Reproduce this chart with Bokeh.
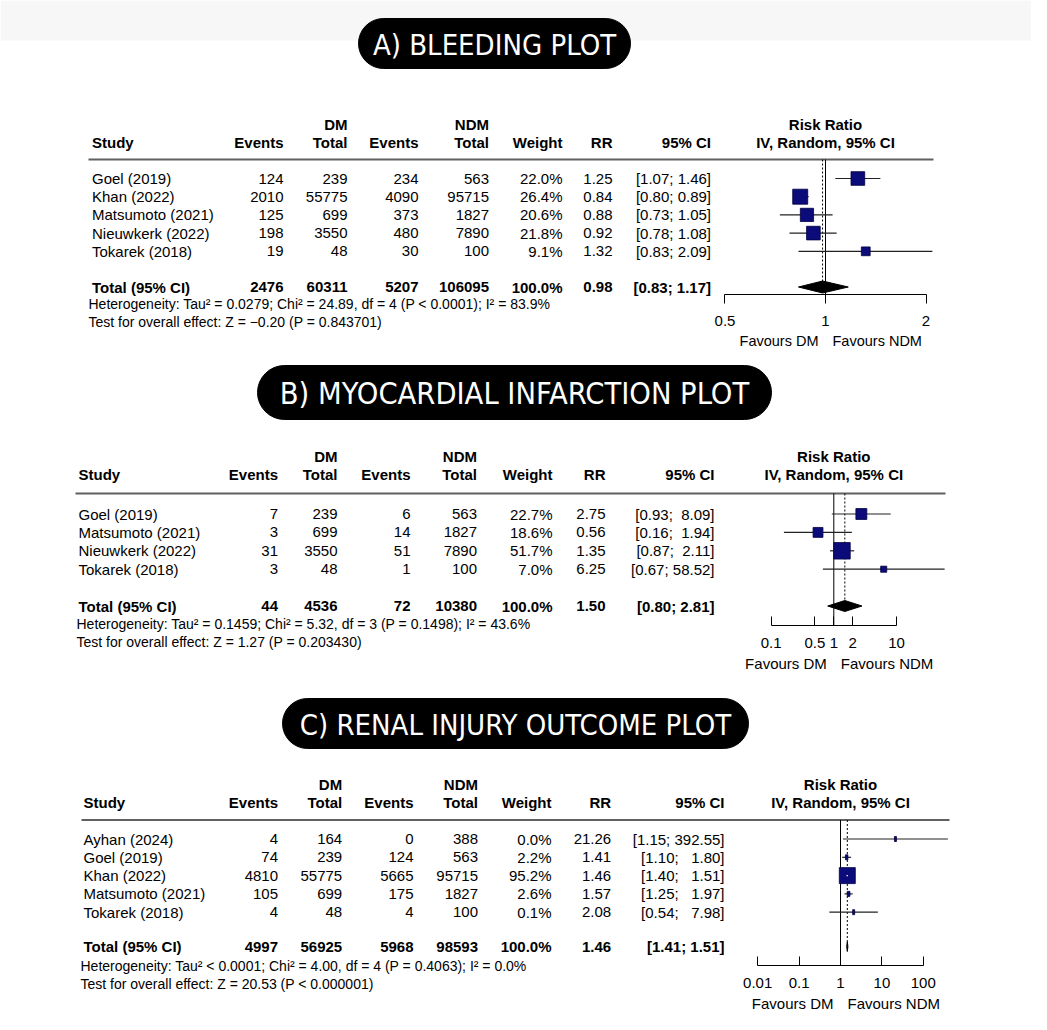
import math
from bokeh.plotting import figure
from bokeh.models import Range1d, LogScale, LogAxis, FixedTicker, NumeralTickFormatter
from bokeh.core.properties import value
from bokeh.embed import file_html
from bokeh.resources import INLINE

# ---------------- data ----------------
titles = ["A) BLEEDING PLOT", "B) MYOCARDIAL INFARCTION PLOT", "C) RENAL INJURY OUTCOME PLOT"]
header_top = ["DM", "NDM"]
header_cols = ["Study", "Events", "Total", "Events", "Total", "Weight", "RR", "95% CI"]
forest_header = ["Risk Ratio", "IV, Random, 95% CI"]
favours = ["Favours DM", "Favours NDM"]
total_label = "Total (95% CI)"

# A) Bleeding
a_study = ["Goel (2019)", "Khan (2022)", "Matsumoto (2021)", "Nieuwkerk (2022)", "Tokarek (2018)"]
a_dm_events = [124, 2010, 125, 198, 19]
a_dm_total = [239, 55775, 699, 3550, 48]
a_ndm_events = [234, 4090, 373, 480, 30]
a_ndm_total = [563, 95715, 1827, 7890, 100]
a_weight = [22.0, 26.4, 20.6, 21.8, 9.1]
a_rr = [1.25, 0.84, 0.88, 0.92, 1.32]
a_lo = [1.07, 0.80, 0.73, 0.78, 0.83]
a_hi = [1.46, 0.89, 1.05, 1.08, 2.09]
a_totals = [2476, 60311, 5207, 106095]
a_total_weight = 100.0
a_total_rr = 0.98
a_total_lo = 0.83
a_total_hi = 1.17
a_het = "Heterogeneity: Tau² = 0.0279; Chi² = 24.89, df = 4 (P < 0.0001); I² = 83.9%"
a_test = "Test for overall effect: Z = −0.20 (P = 0.843701)"
a_ticks = [0.5, 1, 2]
a_tick_labels = ["0.5", "1", "2"]

# B) Myocardial infarction
b_study = ["Goel (2019)", "Matsumoto (2021)", "Nieuwkerk (2022)", "Tokarek (2018)"]
b_dm_events = [7, 3, 31, 3]
b_dm_total = [239, 699, 3550, 48]
b_ndm_events = [6, 14, 51, 1]
b_ndm_total = [563, 1827, 7890, 100]
b_weight = [22.7, 18.6, 51.7, 7.0]
b_rr = [2.75, 0.56, 1.35, 6.25]
b_lo = [0.93, 0.16, 0.87, 0.67]
b_hi = [8.09, 1.94, 2.11, 58.52]
b_totals = [44, 4536, 72, 10380]
b_total_weight = 100.0
b_total_rr = 1.50
b_total_lo = 0.80
b_total_hi = 2.81
b_het = "Heterogeneity: Tau² = 0.1459; Chi² = 5.32, df = 3 (P = 0.1498); I² = 43.6%"
b_test = "Test for overall effect: Z = 1.27 (P = 0.203430)"
b_ticks = [0.1, 0.5, 1, 2, 10]
b_tick_labels = ["0.1", "0.5", "1", "2", "10"]

# C) Renal injury
c_study = ["Ayhan (2024)", "Goel (2019)", "Khan (2022)", "Matsumoto (2021)", "Tokarek (2018)"]
c_dm_events = [4, 74, 4810, 105, 4]
c_dm_total = [164, 239, 55775, 699, 48]
c_ndm_events = [0, 124, 5665, 175, 4]
c_ndm_total = [388, 563, 95715, 1827, 100]
c_weight = [0.0, 2.2, 95.2, 2.6, 0.1]
c_rr = [21.26, 1.41, 1.46, 1.57, 2.08]
c_lo = [1.15, 1.10, 1.40, 1.25, 0.54]
c_hi = [392.55, 1.80, 1.51, 1.97, 7.98]
c_totals = [4997, 56925, 5968, 98593]
c_total_weight = 100.0
c_total_rr = 1.46
c_total_lo = 1.41
c_total_hi = 1.51
c_het = "Heterogeneity: Tau² < 0.0001; Chi² = 4.00, df = 4 (P = 0.4063); I² = 0.0%"
c_test = "Test for overall effect: Z = 20.53 (P < 0.000001)"
c_ticks = [0.01, 0.1, 1, 10, 100]
c_tick_labels = ["0.01", "0.1", "1", "10", "100"]

# ---------------- layout / style ----------------
W, H = 1031, 1014
OX, OY = 0, 0
FONT = "Liberation Sans"
TFONT = "DejaVu Sans Condensed"
NAVY = "#0b0b7a"


def fx(v):
    return v - OX


def fy(v):
    return v - OY


panels = [
    dict(name="rrA", x_one=825, dec=333.9, study_x=91.5, het_x=88,
         cols=[283, 347, 418, 488.5, 562, 612, 710.5], hdr1_y=123.5, hdr2_y=142,
         line_y=159, line_x=(88, 933), row0=178, step=18.2, total_y=286.5,
         het_y=303, test_y=321, axis_y=294, tick_in=0, tick_out=9, standoff=12,
         fav_y=340, fav_size="14.5px", box_max=15, dh=12,
         pill=(358, 630, 18, 68), title_size="29px"),
    dict(name="rrB", x_one=833.3, dec=62.7, study_x=78, het_x=76,
         cols=[277.5, 337, 410, 476.5, 552, 605, 714], hdr1_y=455.5, hdr2_y=474,
         line_y=493, line_x=(75, 945), row0=513.5, step=18.4, total_y=605.5,
         het_y=623, test_y=641, axis_y=625, tick_in=9, tick_out=0, standoff=12,
         fav_y=663, fav_size="15px", box_max=16.5, dh=11,
         pill=(257, 771, 365, 419), title_size="30.5px"),
    dict(name="rrC", x_one=840, dec=41.4, study_x=83, het_x=80,
         cols=[277.5, 341.7, 413, 477.5, 551, 610.7, 724], hdr1_y=783.5, hdr2_y=802,
         line_y=819.5, line_x=(81, 949), row0=838.5, step=18.3, total_y=946,
         het_y=965, test_y=983, axis_y=965, tick_in=9, tick_out=0, standoff=12,
         fav_y=1003, fav_size="15px", box_max=16, dh=10,
         pill=(282, 748, 698, 748), title_size="29px"),
]

datasets = [
    dict(study=a_study, dm_e=a_dm_events, dm_n=a_dm_total, ndm_e=a_ndm_events, ndm_n=a_ndm_total,
         w=a_weight, rr=a_rr, lo=a_lo, hi=a_hi, totals=a_totals, tw=a_total_weight,
         trr=a_total_rr, tlo=a_total_lo, thi=a_total_hi, het=a_het, test=a_test,
         ticks=a_ticks, tick_labels=a_tick_labels),
    dict(study=b_study, dm_e=b_dm_events, dm_n=b_dm_total, ndm_e=b_ndm_events, ndm_n=b_ndm_total,
         w=b_weight, rr=b_rr, lo=b_lo, hi=b_hi, totals=b_totals, tw=b_total_weight,
         trr=b_total_rr, tlo=b_total_lo, thi=b_total_hi, het=b_het, test=b_test,
         ticks=b_ticks, tick_labels=b_tick_labels),
    dict(study=c_study, dm_e=c_dm_events, dm_n=c_dm_total, ndm_e=c_ndm_events, ndm_n=c_ndm_total,
         w=c_weight, rr=c_rr, lo=c_lo, hi=c_hi, totals=c_totals, tw=c_total_weight,
         trr=c_total_rr, tlo=c_total_lo, thi=c_total_hi, het=c_het, test=c_test,
         ticks=c_ticks, tick_labels=c_tick_labels),
]

p = figure(width=W, height=H, x_range=Range1d(0, W), y_range=Range1d(H, 0),
           x_axis_location=None, y_axis_location=None, output_backend="svg",
           toolbar_location=None, min_border=0)
p.grid.visible = False
p.outline_line_color = None
p.background_fill_color = "white"
p.border_fill_color = "white"

# extra log ranges for forest parts
ranges, scales = {}, {}
for L in panels:
    p1 = fx(L["x_one"])
    ranges[L["name"]] = Range1d(10 ** (-p1 / L["dec"]), 10 ** ((W - p1) / L["dec"]))
    scales[L["name"]] = LogScale()
p.extra_x_ranges = ranges
p.extra_x_scales = scales


def txt(xs, ys, texts, align="left", bold=False, size="15px", xr=None, color="black", xoff=0, font=FONT):
    kw = {}
    if xr:
        kw["x_range_name"] = xr
    p.text(x=xs, y=ys, text=texts, text_align=align, text_baseline="middle",
           text_font=value(font), text_font_size=size,
           text_font_style="bold" if bold else "normal", text_color=color,
           x_offset=xoff, **kw)


# grey band at top
p.quad(left=[0], right=[W], top=[0], bottom=[fy(40)], fill_color="#f7f7f7", line_color=None)

for L, d, title in zip(panels, datasets, titles):
    name = L["name"]
    n = len(d["study"])
    ys = [fy(L["row0"] + i * L["step"]) for i in range(n)]

    # title pill
    l, r, t, b = L["pill"]
    p.quad(left=[fx(l)], right=[fx(r)], top=[fy(t)], bottom=[fy(b)],
           fill_color="black", line_color="black", border_radius=int((b - t) // 2))
    txt([fx((l + r) / 2)], [fy((t + b) / 2 + 1)], [title], align="center",
        size=L["title_size"], color="white", font=TFONT)

    # header
    cols = L["cols"]
    txt([fx(cols[1]), fx(cols[3])], [fy(L["hdr1_y"])] * 2, header_top, align="right", bold=True)
    txt([fx(L["study_x"])], [fy(L["hdr2_y"])], [header_cols[0]], bold=True)
    txt([fx(c) for c in cols], [fy(L["hdr2_y"])] * len(cols), header_cols[1:], align="right", bold=True)
    txt([1], [fy(L["hdr1_y"])], [forest_header[0]], align="center", bold=True, xr=name)
    txt([1], [fy(L["hdr2_y"])], [forest_header[1]], align="center", bold=True, xr=name)
    p.segment(x0=[fx(L["line_x"][0])], x1=[fx(L["line_x"][1])], y0=[fy(L["line_y"])],
              y1=[fy(L["line_y"])], line_color="#606060", line_width=2)

    # study rows
    hi_s = ["%.2f" % v for v in d["hi"]]
    mx = max(len(s) for s in hi_s)
    ci_s = ["[%.2f;" % lo + "\u00a0" * (1 + mx - len(h)) + h + "]" for lo, h in zip(d["lo"], hi_s)]
    col_vals = [
        [str(v) for v in d["dm_e"]],
        [str(v) for v in d["dm_n"]],
        [str(v) for v in d["ndm_e"]],
        [str(v) for v in d["ndm_n"]],
        ["%.1f%%" % v for v in d["w"]],
        ["%.2f" % v for v in d["rr"]],
        ci_s,
    ]
    txt([fx(L["study_x"])] * n, ys, d["study"])
    for cx, vals in zip(cols, col_vals):
        txt([fx(cx)] * n, ys, vals, align="right")

    # total row
    ty = fy(L["total_y"])
    txt([fx(L["study_x"])], [ty], [total_label], bold=True)
    tot_vals = [str(v) for v in d["totals"]] + ["%.1f%%" % d["tw"], "%.2f" % d["trr"],
                                                  "[%.2f; %.2f]" % (d["tlo"], d["thi"])]
    txt([fx(c) for c in cols], [ty] * len(cols), tot_vals, align="right", bold=True)

    txt([fx(L["het_x"])], [fy(L["het_y"])], [d["het"]], size="14px")
    txt([fx(L["het_x"])], [fy(L["test_y"])], [d["test"]], size="14px")

    # forest: reference lines
    dh = L["dh"]
    p.segment(x0=[1], x1=[1], y0=[fy(L["line_y"])], y1=[fy(L["axis_y"])], x_range_name=name,
              line_color="black", line_width=1)
    p.segment(x0=[d["trr"]], x1=[d["trr"]], y0=[fy(L["line_y"])], y1=[ty - dh / 2], x_range_name=name,
              line_color="black", line_width=1, line_dash="2 2")

    # CIs and boxes
    p.segment(x0=d["lo"], x1=d["hi"], y0=ys, y1=ys, x_range_name=name, line_color="#222222", line_width=1.2)
    wmax = max(d["w"])
    sizes = [L["box_max"] * math.sqrt(w / wmax) for w in d["w"]]
    bw = [max(s, 2) for s in sizes]
    bh = [max(s, 5) for s in sizes]
    p.rect(x=d["rr"], y=ys, width=bw, height=bh, width_units="screen", height_units="screen",
           x_range_name=name, fill_color=NAVY, line_color="#000040", line_width=0.8)
    inside = [i for i in range(n)
              if L["dec"] * (math.log10(d["hi"][i]) - math.log10(d["lo"][i])) < sizes[i] and sizes[i] > 5]
    if inside:
        p.segment(x0=[d["lo"][i] for i in inside], x1=[d["hi"][i] for i in inside],
                  y0=[ys[i] for i in inside], y1=[ys[i] for i in inside], x_range_name=name,
                  line_color="white", line_width=1.2)

    # diamond
    p.patch(x=[d["tlo"], d["trr"], d["thi"], d["trr"]], y=[ty, ty - dh / 2, ty, ty + dh / 2],
            x_range_name=name, fill_color="black", line_color="black", line_width=1)

    # axis
    ax = LogAxis(x_range_name=name, fixed_location=fy(L["axis_y"]),
                 ticker=FixedTicker(ticks=d["ticks"]),
                 formatter=NumeralTickFormatter(format="0.[00]"),
                 major_label_overrides={t: s for t, s in zip(d["ticks"], d["tick_labels"])},
                 bounds=(d["ticks"][0], d["ticks"][-1]),
                 major_tick_in=L["tick_in"], major_tick_out=L["tick_out"],
                 minor_tick_in=0, minor_tick_out=0,
                 major_label_standoff=L["standoff"],
                 major_label_text_font=FONT, major_label_text_font_size="15px",
                 major_label_text_color="black",
                 axis_line_color="black", major_tick_line_color="black",
                 axis_line_width=1, major_tick_line_width=1)
    p.add_layout(ax, "below")

    txt([1], [fy(L["fav_y"])], [favours[0]], align="right", xr=name, xoff=-7, size=L["fav_size"])
    txt([1], [fy(L["fav_y"])], [favours[1]], align="left", xr=name, xoff=7, size=L["fav_size"])

open("out.html", "w").write(file_html(p, INLINE))
